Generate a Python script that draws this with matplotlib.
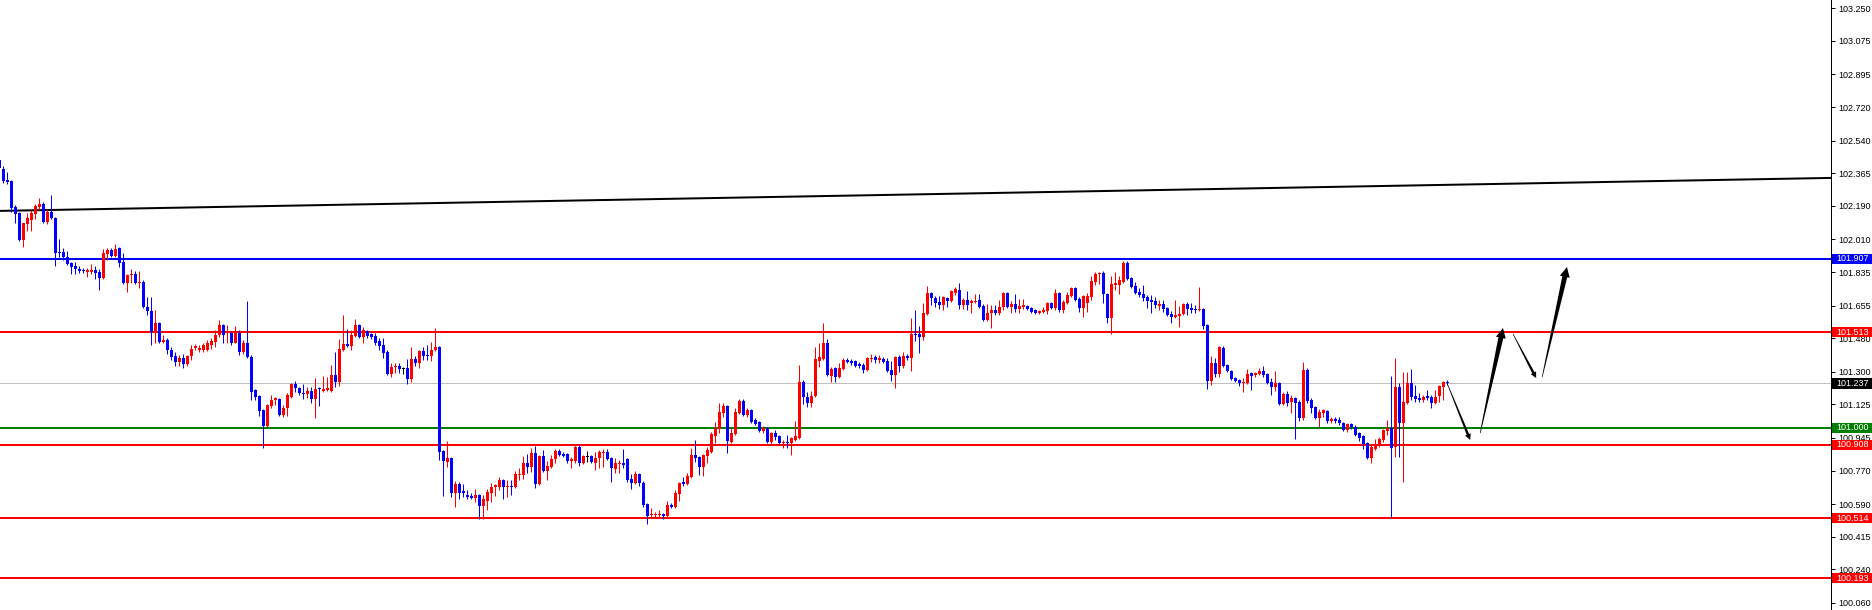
import numpy as np
import matplotlib.pyplot as plt
from matplotlib.patches import Polygon, Rectangle
from matplotlib.transforms import IdentityTransform, blended_transform_factory

plt.rcParams['font.family'] = ['Liberation Sans', 'DejaVu Sans']

# OHLC, one value per bar
opens = [
    102.436, 102.388, 102.329, 102.324, 102.184, 102.152, 102.007, 102.093, 102.114, 102.147,
    102.184, 102.200, 102.104, 102.157, 102.125, 101.943, 101.943, 101.916, 101.884, 101.868,
    101.851, 101.846, 101.835, 101.835, 101.846, 101.835, 101.803, 101.932, 101.953, 101.921,
    101.964, 101.889, 101.776, 101.819, 101.825, 101.776, 101.782, 101.647, 101.626, 101.508,
    101.562, 101.460, 101.470, 101.417, 101.385, 101.352, 101.374, 101.342, 101.385, 101.428,
    101.417, 101.417, 101.417, 101.444, 101.460, 101.497, 101.551, 101.508, 101.508, 101.454,
    101.508, 101.406, 101.454, 101.379, 101.202, 101.170, 101.095, 101.009, 101.116, 101.148,
    101.154, 101.068, 101.106, 101.164, 101.234, 101.213, 101.186, 101.181, 101.197, 101.154,
    101.213, 101.197, 101.202, 101.197, 101.283, 101.245, 101.417, 101.449, 101.438, 101.492,
    101.551, 101.486, 101.519, 101.503, 101.492, 101.465, 101.444, 101.406, 101.288, 101.326,
    101.331, 101.315, 101.320, 101.261, 101.369, 101.347, 101.411, 101.390, 101.385, 101.417,
    101.433, 100.875, 100.816, 100.837, 100.649, 100.698, 100.660, 100.639, 100.633, 100.623,
    100.639, 100.580, 100.606, 100.649, 100.682, 100.682, 100.719, 100.682, 100.687, 100.682,
    100.746, 100.746, 100.810, 100.789, 100.864, 100.698, 100.848, 100.767, 100.789, 100.832,
    100.875, 100.859, 100.859, 100.821, 100.821, 100.896, 100.810, 100.843, 100.848, 100.810,
    100.837, 100.864, 100.869, 100.837, 100.778, 100.805, 100.810, 100.832, 100.724, 100.703,
    100.751, 100.703, 100.590, 100.531, 100.531, 100.531, 100.537, 100.526, 100.585, 100.574,
    100.644, 100.708, 100.698, 100.735, 100.853, 100.843, 100.789, 100.848, 100.869, 100.955,
    100.993, 101.079, 101.116, 100.923, 100.966, 101.079, 101.143, 101.068, 101.095, 101.041,
    101.030, 100.982, 100.998, 100.923, 100.971, 100.955, 100.918, 100.923, 100.918, 100.934,
    100.945, 101.245, 101.164, 101.132, 101.170, 101.358, 101.369, 101.454, 101.277, 101.320,
    101.272, 101.315, 101.363, 101.358, 101.358, 101.342, 101.336, 101.309, 101.369, 101.379,
    101.363, 101.369, 101.358, 101.309, 101.283, 101.379, 101.331, 101.385, 101.374, 101.503,
    101.503, 101.486, 101.610, 101.723, 101.696, 101.674, 101.658, 101.696, 101.680, 101.723,
    101.739, 101.658, 101.685, 101.669, 101.674, 101.685, 101.653, 101.578, 101.615, 101.631,
    101.615, 101.647, 101.723, 101.647, 101.664, 101.637, 101.647, 101.653, 101.642, 101.631,
    101.615, 101.621, 101.626, 101.669, 101.642, 101.723, 101.631, 101.669, 101.706, 101.749,
    101.690, 101.642, 101.669, 101.701, 101.782, 101.825, 101.830, 101.717, 101.588, 101.765,
    101.765, 101.782, 101.884, 101.803, 101.760, 101.728, 101.717, 101.701, 101.685, 101.680,
    101.653, 101.664, 101.642, 101.610, 101.594, 101.599, 101.610, 101.664, 101.642, 101.637,
    101.631, 101.637, 101.551, 101.250, 101.347, 101.288, 101.428, 101.336, 101.304, 101.267,
    101.256, 101.240, 101.240, 101.293, 101.283, 101.288, 101.304, 101.288, 101.245, 101.218,
    101.240, 101.127, 101.181, 101.138, 101.159, 101.138, 101.052, 101.309, 101.148, 101.111,
    101.052, 101.079, 101.090, 101.036, 101.047, 101.041, 101.025, 100.987, 101.020, 101.003,
    100.971, 100.955, 100.918, 100.837, 100.886, 100.902, 100.934, 100.982, 100.998, 100.896,
    101.218, 101.025, 101.132, 101.240, 101.170, 101.159, 101.148, 101.170, 101.164, 101.132,
    101.170, 101.218, 101.245,
]
highs = [
    102.463, 102.404, 102.371, 102.329, 102.195, 102.157, 102.098, 102.152, 102.168, 102.200,
    102.232, 102.211, 102.173, 102.248, 102.130, 102.012, 101.964, 101.948, 101.889, 101.889,
    101.868, 101.857, 101.857, 101.878, 101.868, 101.851, 101.959, 101.964, 101.964, 101.986,
    101.969, 101.937, 101.825, 101.851, 101.841, 101.841, 101.792, 101.701, 101.701, 101.631,
    101.567, 101.497, 101.481, 101.433, 101.406, 101.390, 101.395, 101.390, 101.444, 101.449,
    101.444, 101.454, 101.470, 101.481, 101.524, 101.578, 101.556, 101.551, 101.513, 101.546,
    101.524, 101.470, 101.680, 101.390, 101.207, 101.175, 101.100, 101.127, 101.175, 101.164,
    101.159, 101.122, 101.186, 101.240, 101.250, 101.218, 101.234, 101.218, 101.218, 101.266,
    101.218, 101.277, 101.272, 101.336, 101.406, 101.476, 101.605, 101.530, 101.524, 101.583,
    101.556, 101.540, 101.524, 101.508, 101.508, 101.481, 101.481, 101.417, 101.347, 101.347,
    101.347, 101.326, 101.369, 101.433, 101.385, 101.417, 101.433, 101.444, 101.460, 101.535,
    101.438, 100.880, 100.928, 100.843, 100.714, 100.708, 100.698, 100.665, 100.649, 100.671,
    100.644, 100.639, 100.671, 100.703, 100.698, 100.735, 100.724, 100.719, 100.719, 100.767,
    100.783, 100.848, 100.859, 100.891, 100.902, 100.853, 100.880, 100.821, 100.853, 100.886,
    100.886, 100.869, 100.864, 100.843, 100.907, 100.907, 100.853, 100.875, 100.853, 100.869,
    100.880, 100.886, 100.886, 100.843, 100.837, 100.826, 100.886, 100.837, 100.751, 100.767,
    100.757, 100.714, 100.596, 100.569, 100.547, 100.558, 100.542, 100.606, 100.596, 100.665,
    100.708, 100.735, 100.757, 100.891, 100.934, 100.848, 100.859, 100.896, 100.977, 101.030,
    101.132, 101.132, 101.122, 100.998, 101.106, 101.154, 101.154, 101.106, 101.100, 101.052,
    101.036, 101.009, 101.003, 100.977, 100.987, 100.961, 100.934, 100.961, 100.950, 101.036,
    101.336, 101.256, 101.191, 101.197, 101.433, 101.454, 101.562, 101.476, 101.326, 101.326,
    101.347, 101.374, 101.374, 101.369, 101.363, 101.352, 101.347, 101.379, 101.395, 101.390,
    101.390, 101.379, 101.374, 101.358, 101.385, 101.390, 101.406, 101.395, 101.588, 101.631,
    101.546, 101.669, 101.760, 101.728, 101.706, 101.706, 101.706, 101.701, 101.739, 101.755,
    101.776, 101.696, 101.733, 101.690, 101.717, 101.717, 101.664, 101.664, 101.658, 101.658,
    101.685, 101.728, 101.728, 101.680, 101.717, 101.690, 101.690, 101.658, 101.647, 101.637,
    101.631, 101.647, 101.674, 101.674, 101.744, 101.728, 101.685, 101.728, 101.755, 101.755,
    101.701, 101.712, 101.723, 101.814, 101.835, 101.835, 101.841, 101.723, 101.814, 101.835,
    101.814, 101.894, 101.894, 101.808, 101.782, 101.749, 101.765, 101.712, 101.712, 101.701,
    101.685, 101.685, 101.647, 101.626, 101.685, 101.653, 101.669, 101.674, 101.669, 101.658,
    101.755, 101.642, 101.556, 101.385, 101.374, 101.438, 101.438, 101.342, 101.309, 101.272,
    101.261, 101.267, 101.315, 101.299, 101.299, 101.320, 101.331, 101.293, 101.267, 101.304,
    101.245, 101.191, 101.197, 101.175, 101.164, 101.148, 101.352, 101.320, 101.159, 101.116,
    101.100, 101.100, 101.095, 101.057, 101.057, 101.057, 101.030, 101.025, 101.025, 101.014,
    100.977, 100.961, 100.923, 100.907, 100.939, 100.950, 100.993, 101.041, 101.277, 101.374,
    101.240, 101.299, 101.299, 101.315, 101.229, 101.186, 101.175, 101.202, 101.175, 101.202,
    101.229, 101.250, 101.256,
]
lows = [
    102.371, 102.313, 102.308, 102.157, 102.098, 102.002, 101.969, 102.055, 102.055, 102.120,
    102.168, 102.098, 102.093, 102.120, 101.867, 101.916, 101.900, 101.873, 101.825, 101.825,
    101.830, 101.830, 101.808, 101.825, 101.798, 101.739, 101.798, 101.900, 101.916, 101.916,
    101.862, 101.771, 101.728, 101.776, 101.771, 101.749, 101.642, 101.605, 101.444, 101.454,
    101.454, 101.454, 101.395, 101.363, 101.331, 101.331, 101.320, 101.331, 101.363, 101.417,
    101.406, 101.406, 101.411, 101.422, 101.433, 101.486, 101.454, 101.454, 101.444, 101.454,
    101.390, 101.395, 101.374, 101.148, 101.148, 101.063, 100.891, 101.003, 101.106, 101.122,
    101.063, 101.057, 101.063, 101.159, 101.191, 101.175, 101.154, 101.159, 101.132, 101.052,
    101.116, 101.191, 101.197, 101.191, 101.218, 101.224, 101.411, 101.433, 101.417, 101.486,
    101.481, 101.454, 101.481, 101.476, 101.444, 101.417, 101.374, 101.283, 101.272, 101.293,
    101.293, 101.288, 101.234, 101.245, 101.331, 101.320, 101.363, 101.363, 101.358, 101.411,
    100.826, 100.633, 100.789, 100.628, 100.574, 100.617, 100.628, 100.617, 100.617, 100.601,
    100.510, 100.510, 100.558, 100.601, 100.633, 100.665, 100.617, 100.628, 100.639, 100.676,
    100.719, 100.724, 100.757, 100.762, 100.676, 100.692, 100.762, 100.719, 100.783, 100.810,
    100.848, 100.843, 100.810, 100.783, 100.810, 100.794, 100.805, 100.816, 100.810, 100.773,
    100.783, 100.789, 100.826, 100.708, 100.757, 100.757, 100.783, 100.708, 100.671, 100.698,
    100.687, 100.574, 100.483, 100.521, 100.521, 100.521, 100.510, 100.521, 100.569, 100.569,
    100.606, 100.687, 100.692, 100.730, 100.816, 100.746, 100.741, 100.810, 100.864, 100.918,
    100.971, 101.057, 100.864, 100.918, 100.961, 101.073, 101.063, 101.057, 101.025, 101.014,
    100.977, 100.971, 100.918, 100.907, 100.934, 100.912, 100.891, 100.891, 100.853, 100.928,
    100.939, 101.127, 101.111, 101.111, 101.164, 101.326, 101.363, 101.277, 101.245, 101.245,
    101.267, 101.309, 101.347, 101.336, 101.326, 101.320, 101.293, 101.304, 101.352, 101.347,
    101.347, 101.347, 101.299, 101.250, 101.213, 101.299, 101.320, 101.363, 101.304, 101.465,
    101.401, 101.470, 101.605, 101.658, 101.647, 101.637, 101.631, 101.647, 101.674, 101.712,
    101.637, 101.637, 101.631, 101.615, 101.669, 101.642, 101.572, 101.572, 101.535, 101.605,
    101.605, 101.631, 101.642, 101.615, 101.621, 101.615, 101.637, 101.631, 101.615, 101.610,
    101.610, 101.615, 101.610, 101.637, 101.631, 101.621, 101.615, 101.664, 101.701, 101.680,
    101.621, 101.594, 101.621, 101.685, 101.765, 101.771, 101.669, 101.562, 101.503, 101.739,
    101.717, 101.776, 101.792, 101.749, 101.717, 101.701, 101.680, 101.642, 101.615, 101.642,
    101.631, 101.621, 101.599, 101.562, 101.588, 101.540, 101.605, 101.605, 101.615, 101.615,
    101.626, 101.530, 101.208, 101.229, 101.272, 101.272, 101.326, 101.299, 101.256, 101.245,
    101.224, 101.191, 101.234, 101.202, 101.272, 101.283, 101.272, 101.234, 101.175, 101.197,
    101.122, 101.122, 101.116, 101.079, 100.939, 101.036, 101.041, 101.132, 101.079, 101.047,
    101.003, 101.057, 101.025, 101.025, 101.025, 101.014, 100.982, 100.977, 100.993, 100.955,
    100.928, 100.886, 100.832, 100.810, 100.880, 100.896, 100.923, 100.961, 100.514, 100.843,
    100.843, 100.708, 101.127, 101.148, 101.138, 101.138, 101.138, 101.148, 101.106, 101.127,
    101.138, 101.148, 101.229,
]
closes = [
    102.393, 102.324, 102.318, 102.179, 102.147, 102.007, 102.098, 102.125, 102.152, 102.189,
    102.200, 102.104, 102.157, 102.125, 101.937, 101.937, 101.916, 101.878, 101.862, 101.851,
    101.841, 101.841, 101.846, 101.846, 101.830, 101.803, 101.937, 101.953, 101.921, 101.959,
    101.884, 101.776, 101.819, 101.825, 101.776, 101.782, 101.647, 101.626, 101.513, 101.562,
    101.460, 101.470, 101.417, 101.379, 101.352, 101.374, 101.342, 101.385, 101.422, 101.438,
    101.428, 101.444, 101.454, 101.465, 101.497, 101.551, 101.497, 101.513, 101.454, 101.513,
    101.406, 101.454, 101.379, 101.191, 101.165, 101.090, 101.009, 101.122, 101.148, 101.159,
    101.068, 101.106, 101.175, 101.234, 101.213, 101.186, 101.181, 101.197, 101.154, 101.207,
    101.207, 101.207, 101.213, 101.283, 101.245, 101.422, 101.449, 101.438, 101.497, 101.551,
    101.486, 101.524, 101.492, 101.486, 101.454, 101.438, 101.401, 101.288, 101.326, 101.331,
    101.315, 101.315, 101.261, 101.369, 101.347, 101.411, 101.385, 101.385, 101.417, 101.433,
    100.869, 100.821, 100.837, 100.649, 100.698, 100.649, 100.649, 100.628, 100.623, 100.639,
    100.580, 100.617, 100.655, 100.682, 100.692, 100.719, 100.682, 100.687, 100.682, 100.751,
    100.751, 100.810, 100.789, 100.864, 100.698, 100.848, 100.767, 100.794, 100.832, 100.875,
    100.853, 100.848, 100.821, 100.832, 100.896, 100.810, 100.848, 100.843, 100.816, 100.837,
    100.869, 100.869, 100.832, 100.783, 100.810, 100.810, 100.800, 100.719, 100.703, 100.751,
    100.703, 100.585, 100.526, 100.537, 100.537, 100.537, 100.526, 100.585, 100.574, 100.649,
    100.703, 100.698, 100.741, 100.853, 100.837, 100.789, 100.853, 100.880, 100.966, 100.998,
    101.084, 101.116, 100.928, 100.971, 101.084, 101.143, 101.068, 101.095, 101.030, 101.020,
    100.982, 100.998, 100.923, 100.971, 100.950, 100.918, 100.923, 100.918, 100.945, 100.955,
    101.245, 101.164, 101.132, 101.170, 101.369, 101.379, 101.454, 101.283, 101.315, 101.272,
    101.320, 101.363, 101.352, 101.347, 101.331, 101.331, 101.309, 101.374, 101.374, 101.363,
    101.374, 101.352, 101.304, 101.283, 101.379, 101.331, 101.385, 101.374, 101.503, 101.497,
    101.486, 101.615, 101.723, 101.696, 101.669, 101.658, 101.701, 101.680, 101.733, 101.744,
    101.658, 101.685, 101.658, 101.680, 101.680, 101.647, 101.578, 101.615, 101.631, 101.615,
    101.647, 101.723, 101.647, 101.664, 101.637, 101.653, 101.658, 101.637, 101.621, 101.615,
    101.626, 101.631, 101.669, 101.642, 101.723, 101.631, 101.674, 101.712, 101.749, 101.685,
    101.642, 101.706, 101.706, 101.787, 101.825, 101.830, 101.717, 101.588, 101.771, 101.776,
    101.792, 101.884, 101.798, 101.755, 101.723, 101.712, 101.696, 101.680, 101.674, 101.658,
    101.664, 101.637, 101.605, 101.594, 101.605, 101.610, 101.664, 101.637, 101.631, 101.631,
    101.637, 101.546, 101.250, 101.347, 101.288, 101.433, 101.331, 101.304, 101.261, 101.250,
    101.240, 101.245, 101.288, 101.277, 101.293, 101.304, 101.283, 101.240, 101.218, 101.240,
    101.127, 101.181, 101.132, 101.159, 101.132, 101.052, 101.309, 101.143, 101.106, 101.052,
    101.084, 101.095, 101.036, 101.047, 101.036, 101.025, 100.987, 101.020, 101.003, 100.961,
    100.945, 100.912, 100.837, 100.896, 100.907, 100.939, 100.987, 100.998, 100.891, 101.218,
    101.025, 101.138, 101.240, 101.164, 101.154, 101.148, 101.164, 101.159, 101.132, 101.164,
    101.224, 101.245, 101.237,
]

# horizontal levels
level_prices = [101.907, 101.513, 101.237, 101.000, 100.908, 100.514, 100.193]
level_colors = ['#0000ff', '#ff0000', '#c0c0c0', '#008000', '#ff0000', '#ff0000', '#ff0000']
level_widths = [2, 2, 1, 2, 2, 2, 2]
label_colors = ['#0000ff', '#ff0000', '#000000', '#008000', '#ff0000', '#ff0000', '#ff0000']

# trend line (bar index, price)
trend_x = [0, 458]
trend_y = [102.163, 102.340]

# projected path arrows (bar index, price)
arrow_x0 = [361.9, 370.2, 378.4, 385.7]
arrow_y0 = [101.240, 100.971, 101.503, 101.272]
arrow_x1 = [367.7, 375.9, 384.2, 391.9]
arrow_y1 = [100.934, 101.535, 101.266, 101.862]
arrow_big = [False, True, False, True]

tick_values = [103.250, 103.075, 102.895, 102.720, 102.540, 102.365, 102.190, 102.010,
               101.835, 101.655, 101.480, 101.300, 101.125, 100.945, 100.770, 100.590,
               100.415, 100.240, 100.060]

px = 0.72  # one pixel in points at dpi 100

fig = plt.figure(figsize=(18.72, 6.10), dpi=100)
ax = fig.add_axes([0, 0, 1831 / 1872, 1])
ax.set_xlim(0.175, 457.9)
ax.set_ylim(100.0218, 103.2945)

o = np.array(opens)
h = np.array(highs)
l = np.array(lows)
c = np.array(closes)
x = np.arange(len(o))

col = np.where(c > o, '#ff0000', np.where(c < o, '#0000ff', '#000000'))

for p, lc, lw in zip(level_prices, level_colors, level_widths):
    ax.axhline(p, color=lc, lw=lw * px, zorder=1)
ax.plot(trend_x, trend_y, color='black', lw=2 * px, zorder=1)

ax.vlines(x, l, h, colors=col, lw=px, zorder=3)
bottom = np.minimum(o, c)
height = np.maximum(np.abs(c - o), 0.0054)
ax.bar(x, height, width=0.75, bottom=bottom, color=col, linewidth=0, zorder=4)

# arrows, drawn in pixel space so they taper like the original
for x0, y0, x1, y1, big in zip(arrow_x0, arrow_y0, arrow_x1, arrow_y1, arrow_big):
    p0 = ax.transData.transform((x0, y0))
    p1 = ax.transData.transform((x1, y1))
    d = p1 - p0
    u = d / np.hypot(*d)
    n = np.array([-u[1], u[0]])
    if big:
        hl, hw, sw = 10, 10, 5
    else:
        hl, hw, sw = 6, 6, 2.5
    b = p1 - u * hl
    pts = [p0 + n * 0.3, b + n * sw / 2, b + n * hw / 2, p1,
           b - n * hw / 2, b - n * sw / 2, p0 - n * 0.3]
    ax.add_patch(Polygon(pts, closed=True, transform=IdentityTransform(),
                         fc='black', ec='none', zorder=6))

for s in ['top', 'left', 'bottom']:
    ax.spines[s].set_visible(False)
ax.spines['right'].set_linewidth(px)
ax.set_xticks([])
ax.yaxis.tick_right()
ax.set_yticks(tick_values)
ax.set_yticklabels([f'{v:.3f}' for v in tick_values])
ax.tick_params(axis='y', direction='out', length=3, width=px, pad=2, labelsize=6.5)

trans = blended_transform_factory(ax.transAxes, ax.transData)
for p, bg in zip(level_prices, label_colors):
    ax.add_patch(Rectangle((1.0006, p - 0.027), 0.0219, 0.054, transform=trans,
                           fc=bg, ec='none', clip_on=False, zorder=7))
    ax.text(1.0027, p, f'{p:.3f}', transform=trans, ha='left', va='center',
            color='white', fontsize=6.5, clip_on=False, zorder=8)

fig.savefig('out.png', dpi=100, facecolor='white')
